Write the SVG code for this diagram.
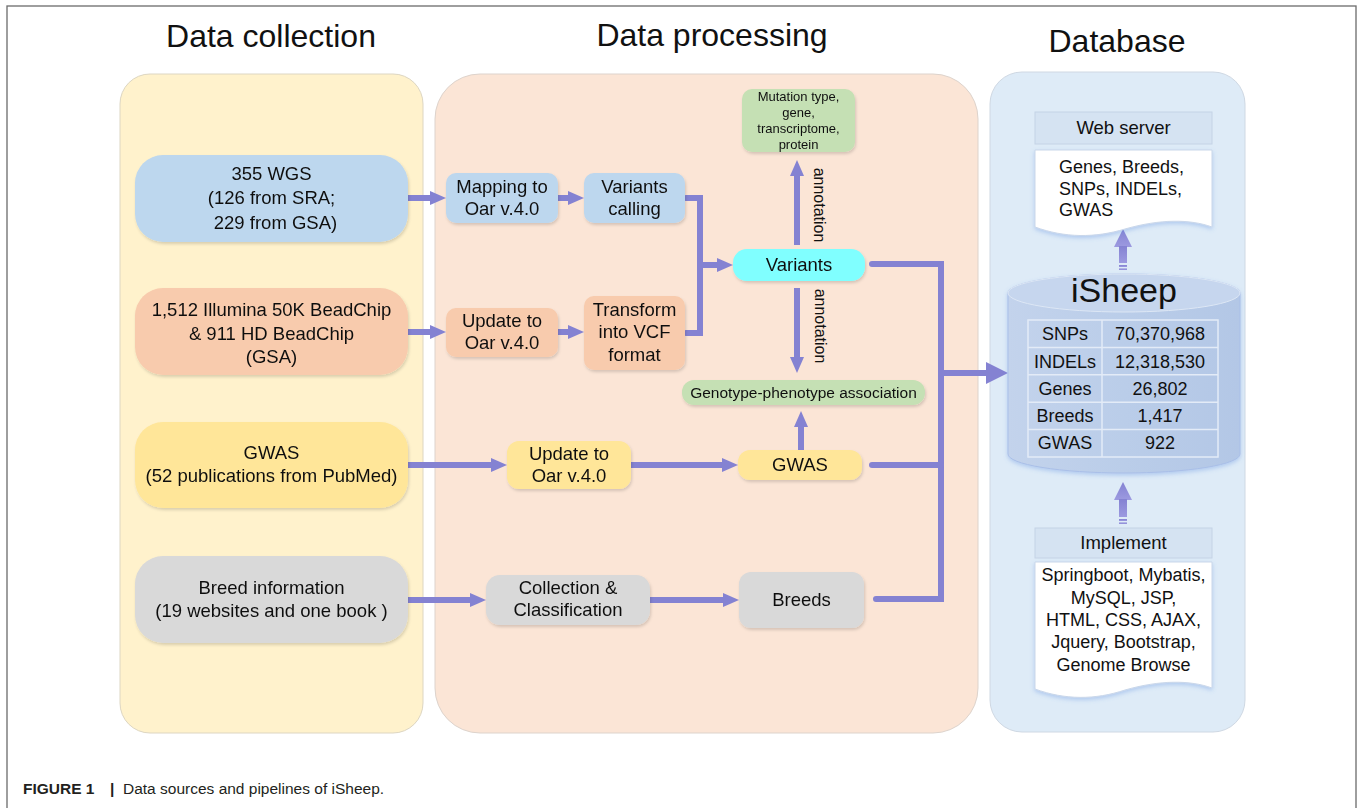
<svg xmlns="http://www.w3.org/2000/svg" width="1363" height="808" viewBox="0 0 1363 808">
<style>
text{font-family:"Liberation Sans",Arial,sans-serif;fill:#111}
.h{font-size:32px;text-anchor:middle}
.t{font-size:18.5px;text-anchor:middle}
.s{font-size:13px;text-anchor:middle}
.an{font-size:16px;text-anchor:middle}
.tb{font-size:18px;text-anchor:middle}
.con{fill:none;stroke:#8482d2;stroke-width:6}
.blue{fill:#bdd7ee}
.orange{fill:#f8cbad}
.yellow{fill:#ffe699}
.grey{fill:#d9d9d9}
.green{fill:#c5e0b4}
.nd{filter:url(#sh)}
</style>
<defs>
<filter id="sh" x="-10%" y="-15%" width="125%" height="140%">
<feDropShadow dx="1" dy="2" stdDeviation="1.5" flood-color="#000" flood-opacity="0.15"/>
</filter>
<filter id="gl" x="-10%" y="-10%" width="120%" height="130%">
<feDropShadow dx="0" dy="2" stdDeviation="2" flood-color="#5b8be0" flood-opacity="0.35"/>
</filter>
<marker id="ah" markerUnits="userSpaceOnUse" markerWidth="16" markerHeight="16" viewBox="0 0 16 16" refX="4" refY="8" orient="auto">
<path d="M0,1 L16,8 L0,15 Z" fill="#8482d2"/>
</marker>
<marker id="ahb" markerUnits="userSpaceOnUse" markerWidth="22" markerHeight="22" viewBox="0 0 22 22" refX="4" refY="11" orient="auto">
<path d="M0,0 L22,11 L0,22 Z" fill="#8482d2"/>
</marker>
<linearGradient id="cyl" x1="0" y1="0" x2="1" y2="0">
<stop offset="0" stop-color="#c3d3ec"/>
<stop offset="0.5" stop-color="#bacde9"/>
<stop offset="1" stop-color="#b3c7e6"/>
</linearGradient>
<linearGradient id="arr" x1="0" y1="0" x2="0" y2="1">
<stop offset="0" stop-color="#8482d2"/>
<stop offset="1" stop-color="#9c9ae0"/>
</linearGradient>
</defs>

<rect x="7" y="6" width="1349" height="820" fill="#fff" stroke="#6b6b6b" stroke-width="1.3"/>

<g id="headings">
<text class="h" x="271" y="47">Data collection</text>
<text class="h" x="712" y="46">Data processing</text>
<text class="h" x="1117" y="52">Database</text>
</g>

<g id="panels">
<rect x="120" y="74" width="303" height="659" rx="30" fill="#fff2cc" stroke="#ddd6c2" stroke-width="1"/>
<rect x="435" y="74" width="543" height="659" rx="45" fill="#fbe5d6" stroke="#ddd3cc" stroke-width="1"/>
<rect x="990" y="72" width="255" height="660" rx="32" fill="#deebf7" stroke="#cfd8e3" stroke-width="1"/>
</g>

<g id="connectors">
<path class="con" d="M408,198 H434" marker-end="url(#ah)"/>
<path class="con" d="M558,198 H572" marker-end="url(#ah)"/>
<path class="con" d="M408,332 H434" marker-end="url(#ah)"/>
<path class="con" d="M558,332 H572" marker-end="url(#ah)"/>
<path class="con" d="M686,198 H700 V333 H686" stroke-linecap="round"/>
<path class="con" d="M700,265 H721" marker-end="url(#ah)"/>
<path class="con" d="M797,245 V172" marker-end="url(#ah)"/>
<path class="con" d="M797,288 V361" marker-end="url(#ah)"/>
<path class="con" d="M872,264 H941 V599 H876" stroke-linecap="round"/>
<path class="con" d="M872,465 H941" stroke-linecap="round"/>
<path class="con" d="M941,373 H990" marker-end="url(#ahb)"/>
<path class="con" d="M408,465 H495" marker-end="url(#ah)"/>
<path class="con" d="M631,465 H726" marker-end="url(#ah)"/>
<path class="con" d="M801,450 V423" marker-end="url(#ah)"/>
<path class="con" d="M408,600 H474" marker-end="url(#ah)"/>
<path class="con" d="M650,600 H727" marker-end="url(#ah)"/>
<g fill="url(#arr)">
<polygon points="1114,247 1123,229 1132,247"/>
<rect x="1119" y="246" width="8" height="17"/>
<rect x="1119" y="265" width="8" height="2"/>
<rect x="1119" y="268.5" width="8" height="1.5"/>
<polygon points="1114,500 1123,482 1132,500"/>
<rect x="1119" y="499" width="8" height="18"/>
<rect x="1119" y="519" width="8" height="2"/>
<rect x="1119" y="522.5" width="8" height="1.5"/>
</g>
</g>

<g id="n-wgs" class="nd">
<rect class="blue" x="135" y="155" width="273" height="87" rx="28"/>
<text class="t" x="271.5" y="180">355 WGS</text>
<text class="t" x="271.5" y="204">(126 from SRA;</text>
<text class="t" x="275.5" y="229">229 from GSA)</text>
</g>
<g id="n-chip" class="nd">
<rect class="orange" x="135" y="288" width="273" height="87" rx="28"/>
<text class="t" x="271.5" y="316">1,512 Illumina 50K BeadChip</text>
<text class="t" x="271.5" y="340">&amp; 911 HD BeadChip</text>
<text class="t" x="271.5" y="363">(GSA)</text>
</g>
<g id="n-gwas-src" class="nd">
<rect class="yellow" x="135" y="422" width="273" height="86" rx="28"/>
<text class="t" x="271.5" y="459">GWAS</text>
<text class="t" x="271.5" y="482">(52 publications from PubMed)</text>
</g>
<g id="n-breed-src" class="nd">
<rect class="grey" x="135" y="556" width="273" height="87" rx="28"/>
<text class="t" x="271.5" y="594">Breed information</text>
<text class="t" x="271.5" y="617">(19 websites and one book )</text>
</g>

<g id="n-map" class="nd">
<rect class="blue" x="446" y="173" width="112" height="50" rx="10"/>
<text class="t" x="502" y="193">Mapping to</text>
<text class="t" x="502" y="215">Oar v.4.0</text>
</g>
<g id="n-vcall" class="nd">
<rect class="blue" x="584" y="173" width="101" height="50" rx="10"/>
<text class="t" x="634.5" y="193">Variants</text>
<text class="t" x="634.5" y="215">calling</text>
</g>
<g id="n-upd1" class="nd">
<rect class="orange" x="446" y="308" width="112" height="49" rx="10"/>
<text class="t" x="502" y="327">Update to</text>
<text class="t" x="502" y="349">Oar v.4.0</text>
</g>
<g id="n-vcf" class="nd">
<rect class="orange" x="584" y="296" width="101" height="74" rx="10"/>
<text class="t" x="634.5" y="316">Transform</text>
<text class="t" x="634.5" y="338">into VCF</text>
<text class="t" x="634.5" y="361">format</text>
</g>
<g id="n-variants" class="nd">
<rect x="733" y="249" width="132" height="32" rx="14" fill="#80ffff"/>
<text class="t" x="799" y="271">Variants</text>
</g>
<g id="n-mut" class="nd">
<rect class="green" x="742" y="89" width="113" height="63" rx="10"/>
<text class="s" x="798.5" y="100.5">Mutation type,</text>
<text class="s" x="798.5" y="117">gene,</text>
<text class="s" x="798.5" y="132.5">transcriptome,</text>
<text class="s" x="798.5" y="148.5">protein</text>
</g>
<text class="an" transform="translate(814,205) rotate(90)">annotation</text>
<text class="an" transform="translate(815,326) rotate(90)">annotation</text>
<g id="n-geno" class="nd">
<rect class="green" x="682" y="380" width="243" height="25" rx="12"/>
<text x="803.5" y="397.5" style="font-size:15.5px;text-anchor:middle">Genotype-phenotype association</text>
</g>
<g id="n-upd2" class="nd">
<rect class="yellow" x="507" y="441" width="124" height="48" rx="12"/>
<text class="t" x="569" y="460">Update to</text>
<text class="t" x="569" y="482">Oar v.4.0</text>
</g>
<g id="n-gwas" class="nd">
<rect class="yellow" x="738" y="450" width="124" height="30" rx="12"/>
<text class="t" x="800" y="471">GWAS</text>
</g>
<g id="n-coll" class="nd">
<rect class="grey" x="486" y="575" width="164" height="50" rx="14"/>
<text class="t" x="568" y="594">Collection &amp;</text>
<text class="t" x="568" y="616">Classification</text>
</g>
<g id="n-breeds" class="nd">
<rect class="grey" x="739" y="572" width="125" height="56" rx="12"/>
<text class="t" x="801.5" y="606">Breeds</text>
</g>

<g id="n-web">
<rect x="1035" y="112" width="177" height="32" fill="#d5e3f2" stroke="#c4d3e6"/>
<text class="t" x="1123.5" y="134">Web server</text>
<path d="M1035,150 H1212 V227 C1190,219 1160,219 1125,229 C1095,238 1065,238 1035,227 Z" fill="#fff" stroke="#c9d7ea" filter="url(#gl)"/>
<text x="1059" y="173" style="font-size:18px">Genes, Breeds,</text>
<text x="1059" y="195" style="font-size:18px">SNPs, INDELs,</text>
<text x="1059" y="216" style="font-size:18px">GWAS</text>
</g>

<g id="n-db">
<path d="M1008,293 V454 A116,19 0 0 0 1240,454 V293 A116,19 0 0 0 1008,293 Z" fill="url(#cyl)" stroke="#a9bfe8" stroke-width="1" filter="url(#gl)"/>
<ellipse cx="1124" cy="293" rx="116" ry="19" fill="#c6d6ee" stroke="#dde7f5" stroke-width="1"/>
<text x="1124" y="302" style="font-size:34px;text-anchor:middle">iSheep</text>
<g fill="none" stroke="#e3ebf7" stroke-width="1.5">
<rect x="1028" y="320" width="190" height="137"/>
<line x1="1102" y1="320" x2="1102" y2="457"/>
<line x1="1028" y1="347.4" x2="1218" y2="347.4"/>
<line x1="1028" y1="374.8" x2="1218" y2="374.8"/>
<line x1="1028" y1="402.2" x2="1218" y2="402.2"/>
<line x1="1028" y1="429.6" x2="1218" y2="429.6"/>
</g>
<text class="tb" x="1065" y="340">SNPs</text>
<text class="tb" x="1160" y="340">70,370,968</text>
<text class="tb" x="1065" y="368">INDELs</text>
<text class="tb" x="1160" y="368">12,318,530</text>
<text class="tb" x="1065" y="394.5">Genes</text>
<text class="tb" x="1160" y="394.5">26,802</text>
<text class="tb" x="1065" y="422">Breeds</text>
<text class="tb" x="1160" y="422">1,417</text>
<text class="tb" x="1065" y="448.5">GWAS</text>
<text class="tb" x="1160" y="448.5">922</text>
</g>

<g id="n-impl">
<rect x="1035" y="528" width="177" height="30" fill="#d5e3f2" stroke="#c4d3e6"/>
<text class="t" x="1123.5" y="549">Implement</text>
<path d="M1035,562 H1212 V688 C1190,680 1160,680 1125,690 C1095,700 1065,700 1035,689 Z" fill="#fff" stroke="#c9d7ea" filter="url(#gl)"/>
<text class="tb" x="1123.5" y="581">Springboot, Mybatis,</text>
<text class="tb" x="1123.5" y="604">MySQL, JSP,</text>
<text class="tb" x="1123.5" y="626">HTML, CSS, AJAX,</text>
<text class="tb" x="1123.5" y="648">Jquery, Bootstrap,</text>
<text class="tb" x="1123.5" y="671">Genome Browse</text>
</g>

<g id="caption">
<text x="23" y="794" style="font-size:15.5px;font-weight:bold;fill:#231f20">FIGURE 1</text>
<text x="110" y="794" style="font-size:15.5px;font-weight:bold;fill:#231f20">|</text>
<text x="123" y="794" style="font-size:15.5px;fill:#231f20">Data sources and pipelines of iSheep.</text>
</g>
</svg>
